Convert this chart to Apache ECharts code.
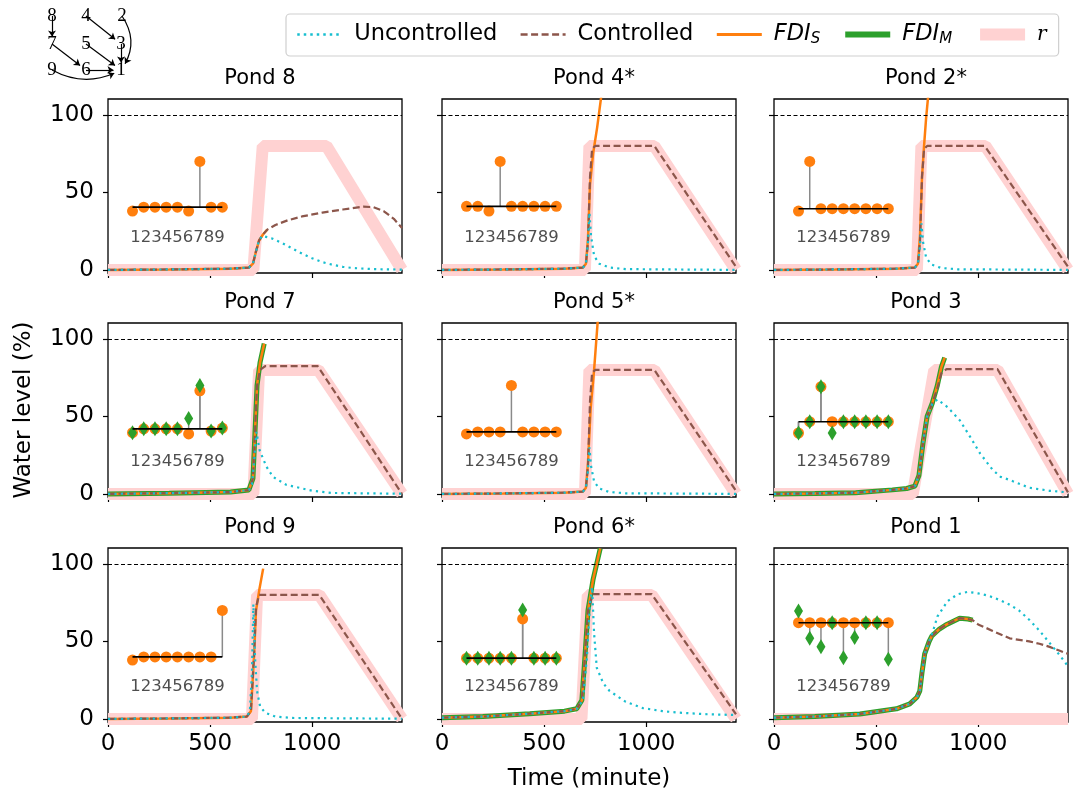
<!DOCTYPE html>
<html>
<head>
<meta charset="utf-8">
<script src="https://cdn.jsdelivr.net/npm/echarts@6/dist/echarts.min.js"></script>
<style>
  html, body { margin: 0; padding: 0; background: #fff; }
  #chart { width: 1079px; height: 799px; }
</style>
</head>
<body>
<div id="chart"></div>
<script>
// ---- data ----
const pondTitles = ["Pond 8", "Pond 4*", "Pond 2*", "Pond 7", "Pond 5*", "Pond 3", "Pond 9", "Pond 6*", "Pond 1"];
const timeTicks = [0, 500, 1000];
const levelTicks = [0, 50, 100];
const capacity = 100;

// Pond 8
const p8Unc = [[0,0],[300,0.3],[600,0.8],[690,1.5],[710,4],[725,12],[740,19],[755,22],[800,20.5],[850,17.5],[900,14],[950,10.5],[1000,7.5],[1050,5],[1100,3.3],[1150,2],[1200,1.2],[1300,0.5],[1440,0.2]];
const p8Ctl = [[0,0],[300,0.3],[600,0.8],[690,1.5],[710,4],[725,12],[740,19],[760,23],[780,26],[820,29],[880,32],[950,34.5],[1050,37],[1150,39],[1250,40.8],[1300,40.5],[1350,38],[1400,33],[1440,27]];
const p8FdiS = [[0,0],[300,0.3],[600,0.8],[690,1.5],[710,4],[725,12],[740,19],[760,23],[780,26]];
const p8FdiM = [];
const p8Ref = [[0,0],[712,0],[758,80],[1070,80],[1440,0]];
// Pond 4*
const p4Unc = [[0,0],[300,0.3],[600,0.8],[690,1.5],[705,4],[715,18],[722,37],[730,22],[745,9],[770,4],[820,1.5],[900,0.5],[1440,0]];
const p4Ctl = [[0,0],[300,0.3],[600,0.8],[690,1.5],[705,4],[715,18],[725,60],[735,78],[750,80],[1040,80],[1440,2]];
const p4FdiS = [[0,0],[300,0.3],[600,0.8],[690,1.5],[705,4],[715,20],[725,55],[740,75],[760,92],[780,112]];
const p4FdiM = [];
const p4Ref = [[0,0],[700,0],[722,80],[1040,80],[1440,0]];
// Pond 2*
const p2Unc = [[0,0],[300,0.3],[600,0.8],[690,1.5],[705,4],[715,15],[722,30],[730,18],[745,8],[770,3.5],[820,1.2],[900,0.4],[1440,0]];
const p2Ctl = [[0,0],[300,0.3],[600,0.8],[690,1.5],[705,4],[715,18],[725,60],[735,78],[750,80],[1032,80],[1440,2]];
const p2FdiS = [[0,0],[300,0.3],[600,0.8],[690,1.5],[705,4],[715,22],[725,60],[735,80],[745,98],[755,112]];
const p2FdiM = [];
const p2Ref = [[0,0],[700,0],[722,80],[1035,80],[1440,0]];
// Pond 7
const p7Unc = [[0,0],[300,0.5],[600,1.2],[690,2.5],[705,6],[715,20],[727,40],[743,28],[776,17.6],[808,11],[874,5.8],[939,3.9],[1000,2],[1100,0.6],[1440,0.1]];
const p7Ctl = [[0,0],[300,0.5],[600,1.2],[690,2.5],[710,10],[720,40],[730,70],[745,80],[770,82.5],[1027,82.5],[1440,0]];
const p7FdiS = [[0,0],[300,0.5],[600,1.2],[690,2.5],[710,10],[720,40],[730,70],[745,85],[765,97]];
const p7FdiM = [[0,0],[300,0.5],[600,1.2],[690,2.5],[710,10],[720,40],[730,70],[745,85],[765,97]];
const p7Ref = [[0,0],[712,0],[740,80],[1030,80],[1440,0]];
// Pond 5*
const p5Unc = [[0,0],[300,0.3],[600,0.8],[690,1.5],[705,4],[715,15],[722,30],[730,18],[745,8],[770,3.5],[820,1.2],[900,0.4],[1440,0]];
const p5Ctl = [[0,0],[300,0.3],[600,0.8],[690,1.5],[705,4],[715,18],[725,60],[735,78],[750,80],[1040,80],[1440,2]];
const p5FdiS = [[0,0],[300,0.3],[600,0.8],[690,1.5],[705,4],[715,20],[728,55],[745,80],[763,112]];
const p5FdiM = [];
const p5Ref = [[0,0],[700,0],[722,80],[1040,80],[1440,0]];
// Pond 3
const p3Unc = [[0,0],[200,0.3],[400,0.8],[580,2.6],[650,3.5],[690,5],[710,12],[730,33],[750,50],[775,58],[800,61],[850,56],[910,47.5],[960,37],[1010,26],[1071,15.5],[1110,11],[1154,9],[1250,4],[1350,2],[1440,1]];
const p3Ctl = [[0,0],[200,0.3],[400,0.8],[580,2.6],[650,3.5],[690,5],[710,12],[730,33],[750,50],[775,58.5],[800,68],[820,78],[845,80.5],[1095,80.5],[1440,1]];
const p3FdiS = [[0,0],[200,0.3],[400,0.8],[580,2.6],[650,3.5],[690,5],[710,12],[730,33],[750,50],[775,58.5],[800,70],[820,82],[836,88]];
const p3FdiM = [[0,0],[200,0.3],[400,0.8],[580,2.6],[650,3.5],[690,5],[710,12],[730,33],[750,50],[775,58.5],[800,70],[820,82],[836,88]];
const p3Ref = [[0,0],[680,0],[785,80],[1095,80],[1440,0]];
// Pond 9
const p9Unc = [[0,0],[300,0.3],[600,0.8],[680,1.5],[695,5],[705,30],[712,74],[720,40],[730,18],[745,8],[770,4],[820,1.5],[900,0.6],[1440,0.1]];
const p9Ctl = [[0,0],[300,0.3],[600,0.8],[680,1.5],[700,5],[715,40],[725,72],[740,80],[1035,80],[1440,0]];
const p9FdiS = [[0,0],[300,0.3],[600,0.8],[680,1.5],[700,5],[715,40],[725,70],[742,84],[760,97]];
const p9FdiM = [];
const p9Ref = [[0,0],[705,0],[730,80],[1035,80],[1440,0]];
// Pond 6*
const p6Unc = [[0,0.8],[200,1.5],[430,3.4],[600,5],[660,6.5],[690,12],[710,40],[725,75],[735,85],[745,55],[758,33],[790,23],[821,18],[900,11],[983,7],[1080,5],[1164,4],[1300,3],[1440,2.5]];
const p6Ctl = [[0,0.8],[200,1.5],[430,3.4],[600,5],[660,6.5],[685,12],[700,40],[715,70],[738,80.5],[1027,80.5],[1440,3]];
const p6FdiS = [[0,0.8],[200,1.5],[430,3.4],[600,5],[660,6.5],[685,12],[700,40],[715,70],[740,90],[775,110]];
const p6FdiM = [[0,0.8],[200,1.5],[430,3.4],[600,5],[660,6.5],[685,12],[700,40],[715,70],[740,90],[775,110]];
const p6Ref = [[0,0],[683,0],[714,80],[1027,80],[1440,0]];
// Pond 1
const p1Unc = [[0,0.8],[200,1.5],[421,3.2],[600,6.5],[665,9.7],[700,14],[714,18],[725,30],[738,42],[760,50],[780,57],[800,66],[850,76],[900,80.5],[950,82],[1000,81],[1050,79.5],[1100,77],[1150,74],[1200,70],[1250,64],[1300,57],[1350,49],[1400,41],[1440,34]];
const p1Ctl = [[0,0.8],[200,1.5],[421,3.2],[600,6.5],[665,9.7],[700,14],[714,18],[725,30],[738,42],[760,50],[773,53.5],[810,58],[846,61],[909,65],[950,64.5],[973,63.7],[1000,61],[1071,56.8],[1154,52],[1250,50],[1300,48.5],[1350,46.5],[1400,44],[1440,42]];
const p1FdiS = [[0,0.8],[200,1.5],[421,3.2],[600,6.5],[665,9.7],[700,14],[714,18],[725,30],[738,42],[760,50],[773,53.5],[810,58],[846,61],[909,65],[950,64.5],[973,63.7]];
const p1FdiM = [[0,0.8],[200,1.5],[421,3.2],[600,6.5],[665,9.7],[700,14],[714,18],[725,30],[738,42],[760,50],[773,53.5],[810,58],[846,61],[909,65],[950,64.5],[973,63.7]];
const p1Ref = [[0,0],[1440,0]];

const uncData = [p8Unc, p4Unc, p2Unc, p7Unc, p5Unc, p3Unc, p9Unc, p6Unc, p1Unc];
const ctlData = [p8Ctl, p4Ctl, p2Ctl, p7Ctl, p5Ctl, p3Ctl, p9Ctl, p6Ctl, p1Ctl];
const fdiSData = [p8FdiS, p4FdiS, p2FdiS, p7FdiS, p5FdiS, p3FdiS, p9FdiS, p6FdiS, p1FdiS];
const fdiMData = [p8FdiM, p4FdiM, p2FdiM, p7FdiM, p5FdiM, p3FdiM, p9FdiM, p6FdiM, p1FdiM];
const refData = [p8Ref, p4Ref, p2Ref, p7Ref, p5Ref, p3Ref, p9Ref, p6Ref, p1Ref];

// inset stem plots (nodes 1..9), drawn in the panel's own axes
const insetTime = [120, 175, 230, 285, 340, 395, 450, 505, 560];
const insetLabels = ["1", "2", "3", "4", "5", "6", "7", "8", "9"];
const insetTextLevel = 20.5;
const insetBase = [40.5, 41, 39.5, 42, 40, 46.6, 40, 39.2, 62.1];
const insetOrange = [
  [38, 40.5, 40.5, 40.5, 40.5, 38, 70, 40.5, 40.5],
  [41, 41, 38, 70, 41, 41, 41, 41, 41],
  [38, 70, 39.5, 39.5, 39.5, 39.5, 39.5, 39.5, 39.5],
  [39.5, 42, 42, 42, 42, 38.7, 66.5, 40.6, 42.5],
  [38.7, 40, 40, 40, 70, 40, 40, 40, 40],
  [39.3, 46.6, 69.2, 46.6, 46.6, 46.6, 46.6, 46.6, 46.6],
  [38, 40, 40, 40, 40, 40, 40, 40, 70],
  [39.2, 39.2, 39.2, 39.2, 39.2, 64.5, 39.2, 39.2, 39.2],
  [62.1, 62.1, 62.1, 62.1, 62.1, 62.1, 62.1, 62.1, 62.1]
];
const insetGreen = [
  null, null, null,
  [39.5, 42, 42, 42, 42, 48.6, 70, 40.6, 42.5],
  null,
  [39.3, 46.6, 69.2, 39.3, 46.6, 46.6, 46.6, 46.6, 46.6],
  null,
  [39.2, 39.2, 39.2, 39.2, 39.2, 70.3, 39.2, 39.2, 39.2],
  [69.7, 52, 46.6, 62.1, 39.5, 52.5, 62.1, 62.1, 38.5]
];

// network diagram (top left)
const graphNodes = ["8", "4", "2", "7", "5", "3", "9", "6", "1"];
const graphX = [0, 34, 70, 0, 34, 69, 0, 34, 69];
const graphY = [0, 0, 0, 28, 28, 28, 54, 54, 54];
const graphLinks = [["8","7",0],["4","3",0],["2","1",0.35],["7","6",0],["5","1",0],["3","1",0],["9","1",-0.27],["6","1",0]];

// ---- chart ----
const FONT = "DejaVu Sans";
const colLeft = [108, 442, 774];
const rowTop = [99, 323, 548];
const panelW = 294, panelH = 174;

let dom = document.getElementById("chart");
let myChart = echarts.init(dom, null, { renderer: "canvas" });

const grids = [], xAxes = [], yAxes = [], series = [], titles = [];

pondTitles.forEach((name, i) => {
  const r = Math.floor(i / 3), c = i % 3;
  grids.push({
    left: colLeft[c], top: rowTop[r], width: panelW, height: panelH,
    show: true, borderColor: "#000", borderWidth: 1.3, backgroundColor: "transparent"
  });
  xAxes.push({
    gridIndex: i, type: "value", min: 0, max: 1440,
    axisLine: { show: false, onZero: false },
    axisTick: { show: true, customValues: timeTicks, length: 5, lineStyle: { color: "#000", width: 1.2 } },
    axisLabel: { show: r === 2, customValues: timeTicks, formatter: v => String(v),
                 color: "#000", fontSize: 23, fontFamily: FONT, margin: 11 },
    splitLine: { show: false },
    name: i === 7 ? "Time (minute)" : "",
    nameLocation: "middle", nameGap: 46,
    nameTextStyle: { color: "#000", fontSize: 23, fontFamily: FONT }
  });
  yAxes.push({
    gridIndex: i, type: "value", min: -2, max: 110.3,
    axisLine: { show: false, onZero: false },
    axisTick: { show: true, customValues: levelTicks, length: 5, lineStyle: { color: "#000", width: 1.2 } },
    axisLabel: { show: c === 0, customValues: levelTicks, color: "#000", fontSize: 23, fontFamily: FONT, margin: 14 },
    splitLine: { show: false },
    name: i === 3 ? "Water level (%)" : "",
    nameLocation: "middle", nameGap: 72, nameRotate: 90,
    nameTextStyle: { color: "#000", fontSize: 23, fontFamily: FONT }
  });
  titles.push({
    text: name, left: colLeft[c] + panelW / 2, top: rowTop[r] - 36, textAlign: "center",
    textStyle: { fontSize: 21, fontWeight: "normal", color: "#000", fontFamily: FONT }
  });

  const ax = { xAxisIndex: i, yAxisIndex: i };
  // reference band
  series.push(Object.assign({
    name: "ref", type: "line", data: refData[i], symbol: "none", silent: true,
    lineStyle: { color: "#ffd2d2", width: 12 },
    markLine: {
      silent: true, symbol: "none", label: { show: false },
      lineStyle: { color: "#000", type: [4, 2.5], width: 1 },
      data: [{ yAxis: capacity }]
    }
  }, ax));
  series.push(Object.assign({
    name: "FDIM", type: "line", data: fdiMData[i], symbol: "none", silent: true,
    lineStyle: { color: "#2ca02c", width: 5 }
  }, ax));
  series.push(Object.assign({
    name: "FDIS", type: "line", data: fdiSData[i], symbol: "none", silent: true,
    lineStyle: { color: "#ff7f0e", width: 2.5 }
  }, ax));
  series.push(Object.assign({
    name: "Controlled", type: "line", data: ctlData[i], symbol: "none", silent: true,
    lineStyle: { color: "#8c564b", width: 2.2, type: [7, 3.5] }
  }, ax));
  series.push(Object.assign({
    name: "Uncontrolled", type: "line", data: uncData[i], symbol: "none", silent: true,
    lineStyle: { color: "#17becf", width: 2.2, type: [2.2, 4.2] }
  }, ax));

  // inset: stems, markers, baseline, label
  const base = insetBase[i];
  const stemSets = [insetOrange[i]];
  if (insetGreen[i]) stemSets.push(insetGreen[i]);
  stemSets.forEach(vals => {
    series.push(Object.assign({
      type: "custom", silent: true, clip: false,
      data: insetTime.map((t, k) => [t, base, vals[k]]),
      encode: { x: 0, y: [1, 2] },
      renderItem: (params, api) => {
        const a = api.coord([api.value(0), api.value(1)]);
        const b = api.coord([api.value(0), api.value(2)]);
        return { type: "line", shape: { x1: a[0], y1: a[1], x2: b[0], y2: b[1] },
                 style: { stroke: "#8a8a8a", lineWidth: 1.5 } };
      }
    }, ax));
  });
  series.push(Object.assign({
    type: "scatter", silent: true, symbol: "circle", symbolSize: 11,
    itemStyle: { color: "#ff7f0e", opacity: 1 },
    data: insetTime.map((t, k) => [t, insetOrange[i][k]])
  }, ax));
  if (insetGreen[i]) {
    series.push(Object.assign({
      type: "scatter", silent: true, symbol: "diamond", symbolSize: [9, 15],
      itemStyle: { color: "#2ca02c", opacity: 1 },
      data: insetTime.map((t, k) => [t, insetGreen[i][k]])
    }, ax));
  }
  series.push(Object.assign({
    type: "line", silent: true, symbol: "none",
    lineStyle: { color: "#000", width: 1.6 },
    data: [[insetTime[0], base], [insetTime[insetTime.length - 1], base]]
  }, ax));
  series.push(Object.assign({
    type: "scatter", silent: true, symbolSize: 0,
    data: [[insetTime[4], insetTextLevel]],
    label: { show: true, position: "inside", formatter: insetLabels.join(""),
             color: "#222", fontSize: 16.5, fontFamily: FONT }
  }, ax));
});

// network diagram
series.push({
  type: "graph", layout: "none", silent: true,
  left: 52, top: 16, width: 70, height: 54,
  symbol: "circle", symbolSize: 15,
  itemStyle: { color: "rgba(0,0,0,0)" },
  label: { show: true, position: "inside", color: "#000", fontSize: 19, fontFamily: "Liberation Serif" },
  edgeSymbol: ["none", "arrow"], edgeSymbolSize: 6,
  lineStyle: { color: "#000", width: 1.2, opacity: 1 },
  data: graphNodes.map((n, k) => ({ name: n, x: graphX[k], y: graphY[k] })),
  links: graphLinks.map(l => ({ source: l[0], target: l[1], lineStyle: { curveness: l[2] } }))
});

const legendNames = {
  Uncontrolled: "Uncontrolled",
  Controlled: "Controlled",
  FDIS: "{i|FDI}{s|S}",
  FDIM: "{i|FDI}{s|M}",
  ref: "{r|r}"
};
const hidden = { opacity: 0 };

let options = {
  animation: false,
  backgroundColor: "#fff",
  title: titles,
  legend: {
    left: 286, top: 14,
    padding: [9, 12, 9, 10],
    itemGap: 22, itemWidth: 45, itemHeight: 14,
    borderColor: "#cfcfcf", borderWidth: 1.2, borderRadius: 4,
    textStyle: {
      color: "#000", fontSize: 22.5, fontFamily: FONT, padding: [0, 0, 0, 7],
      rich: {
        i: { fontStyle: "italic", fontSize: 22.5, fontFamily: FONT },
        s: { fontStyle: "italic", fontSize: 15, fontFamily: FONT, padding: [10, 0, 0, 0] },
        r: { fontStyle: "italic", fontSize: 20, fontFamily: "DejaVu Serif" }
      }
    },
    formatter: n => legendNames[n],
    data: [
      { name: "Uncontrolled", itemStyle: hidden, lineStyle: { width: 2.5, type: [2.5, 4], opacity: 1 } },
      { name: "Controlled", itemStyle: hidden, lineStyle: { width: 2.5, type: [7, 3.5], opacity: 1 } },
      { name: "FDIS", itemStyle: hidden, lineStyle: { width: 3, opacity: 1 } },
      { name: "FDIM", itemStyle: hidden, lineStyle: { width: 6, opacity: 1 } },
      { name: "ref", itemStyle: hidden, lineStyle: { width: 12, opacity: 1 } }
    ]
  },
  grid: grids,
  xAxis: xAxes,
  yAxis: yAxes,
  series: series
};

myChart.setOption(options);
window.addEventListener("resize", () => {
  myChart.resize();
});
</script>
</body>
</html>
